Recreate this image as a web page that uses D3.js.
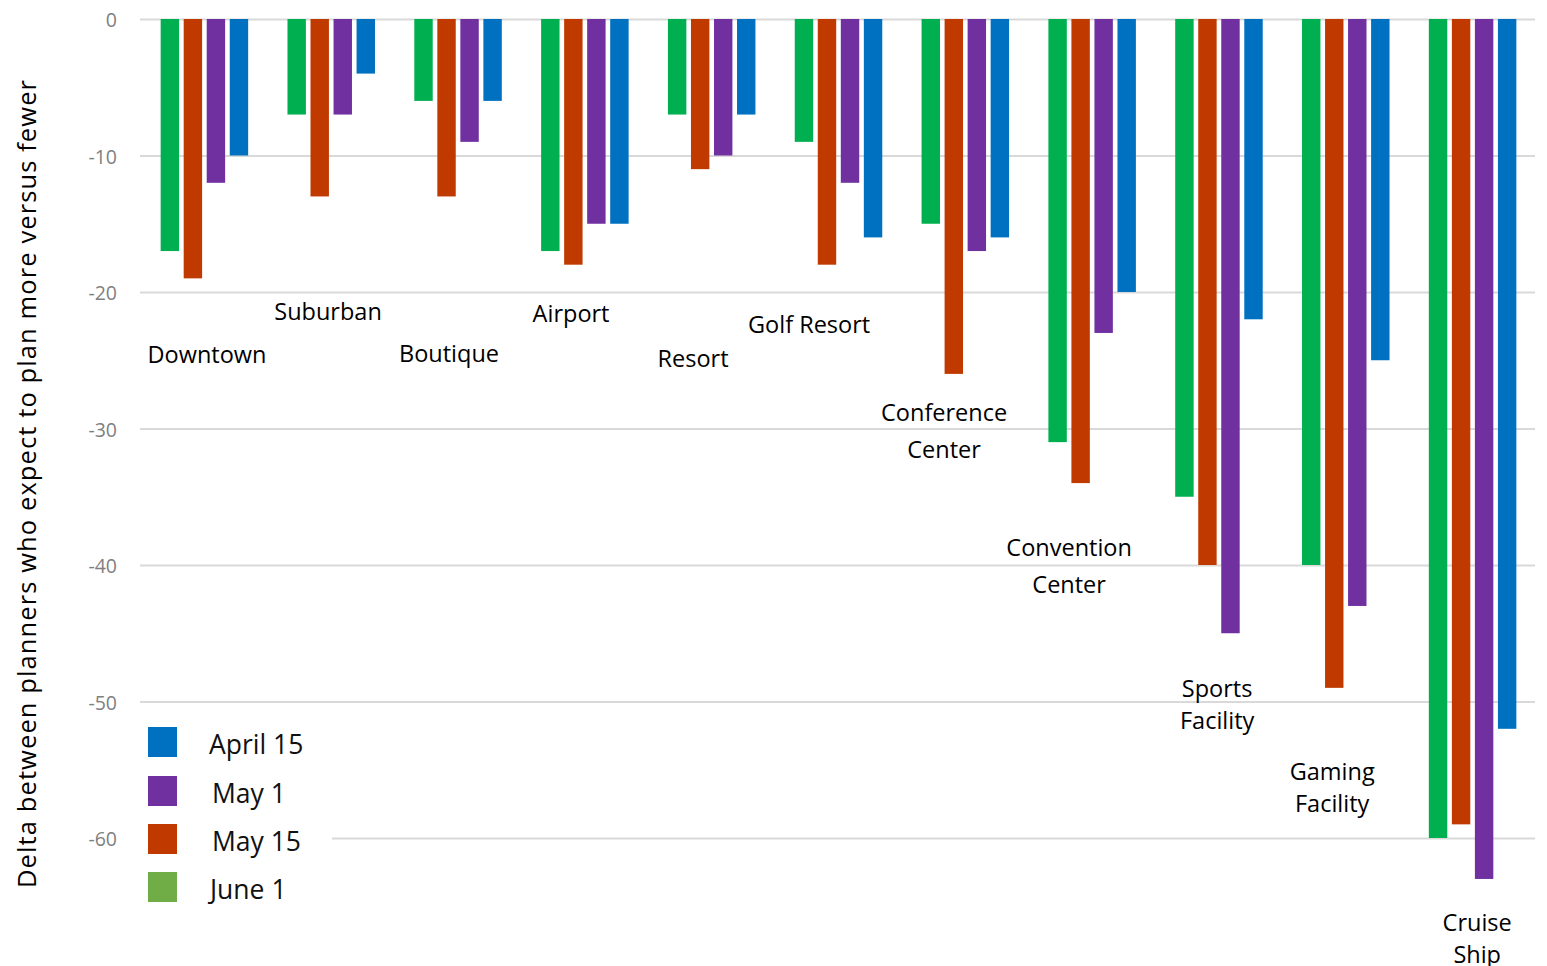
<!DOCTYPE html>
<html>
<head>
<meta charset="utf-8">
<script src="https://cdn.jsdelivr.net/npm/d3@7"></script>
<style>
  html, body { margin: 0; padding: 0; background: #fff; }
  svg { display: block; }
</style>
</head>
<body>
<svg id="chart" width="1547" height="966"></svg>
<script>
// Venue types
const categories = ["Downtown", "Suburban", "Boutique", "Airport", "Resort", "Golf Resort",
  "Conference Center", "Convention Center", "Sports Facility", "Gaming Facility", "Cruise Ship"];

// Survey waves, in the order the bars are drawn inside each group
const series = ["June 1", "May 15", "May 1", "April 15"];

// Net delta per wave, one value per venue type
const june1   = [-17, -7, -6, -17, -7, -9, -15, -31, -35, -40, -60];
const may15   = [-19, -13, -13, -18, -11, -18, -26, -34, -40, -49, -59];
const may1    = [-12, -7, -9, -15, -10, -12, -17, -23, -45, -43, -63];
const april15 = [-10, -4, -6, -15, -7, -16, -16, -20, -22, -25, -52];

const yTicks = [0, -10, -20, -30, -40, -50, -60];
const legendOrder = ["April 15", "May 1", "May 15", "June 1"];

// Category label text, split into lines
const labelLines = [["Downtown"], ["Suburban"], ["Boutique"], ["Airport"], ["Resort"], ["Golf Resort"],
  ["Conference", "Center"], ["Convention", "Center"], ["Sports", "Facility"], ["Gaming", "Facility"], ["Cruise", "Ship"]];
// Where each label line sits, in axis units, and its horizontal nudge from the group centre
const labelAt = [[-24.62], [-21.47], [-24.54], [-21.61], [-24.91], [-22.42],
  [-28.86, -31.58], [-38.75, -41.47], [-49.08, -51.43], [-55.16, -57.51], [-66.23, -68.57]];
const labelDx = [2.6, -3.2, -9, -13.8, -18.6, -29.4, -21.2, -23, -1.8, -13.6, 4.6];

const values = { "June 1": june1, "May 15": may15, "May 1": may1, "April 15": april15 };
const barColor = { "June 1": "#00B050", "May 15": "#C03A00", "May 1": "#7030A0", "April 15": "#0070C0" };
const legendColor = { "June 1": "#70AD47", "May 15": "#C03A00", "May 1": "#7030A0", "April 15": "#0070C0" };

const svg = d3.select("#chart");
const font = "'Open Sans', 'Noto Sans', sans-serif";

const x0 = d3.scaleBand().domain(categories).range([141, 1536]).paddingInner(0.31).paddingOuter(0.155);
const x1 = d3.scaleBand().domain(series).range([0, x0.bandwidth()]).paddingInner(0.2).paddingOuter(0);
const y = d3.scaleLinear().domain([0, -60]).range([19, 838]);

// Gridlines and value labels
const yAxis = d3.axisLeft(y).tickValues(yTicks).tickSize(-1395).tickFormat(d => String(d));
const gAxis = svg.append("g").attr("transform", "translate(140,0)").call(yAxis);
gAxis.select(".domain").remove();
gAxis.selectAll(".tick line").attr("stroke", "#d9d9d9").attr("stroke-width", 2);
gAxis.selectAll(".tick text")
  .attr("x", -23).attr("dy", "0.4em")
  .attr("fill", "#7f7f7f").style("font-family", font).style("font-size", "19.5px");

// Bars
const groups = svg.append("g").selectAll("g").data(categories).join("g")
  .attr("transform", d => `translate(${x0(d)},0)`);
groups.selectAll("rect")
  .data((c, i) => series.map(s => ({ s, v: values[s][i] })))
  .join("rect")
  .attr("x", d => x1(d.s))
  .attr("width", x1.bandwidth())
  .attr("y", y(0))
  .attr("height", d => y(d.v) - y(0))
  .attr("fill", d => barColor[d.s]);

// Category labels
const labels = svg.append("g").style("font-family", font).style("font-size", "23.5px").attr("fill", "#000");
categories.forEach((c, i) => {
  const cx = x0(c) + x0.bandwidth() / 2 + labelDx[i];
  labelLines[i].forEach((line, j) => {
    labels.append("text")
      .attr("x", cx).attr("y", y(labelAt[i][j])).attr("dy", "0.35em")
      .attr("text-anchor", "middle").text(line);
  });
});

// Legend on a white panel
const legend = svg.append("g");
legend.append("rect").attr("x", 140).attr("y", 712).attr("width", 192).attr("height", 200).attr("fill", "#fff");
legendOrder.forEach((s, i) => {
  const ly = [742, 791, 839, 887][i];
  legend.append("rect").attr("x", 148).attr("y", ly - 15).attr("width", 29).attr("height", 30)
    .attr("fill", legendColor[s]);
  legend.append("text").attr("x", [209, 212, 212, 210][i]).attr("y", ly + 3).attr("dy", "0.35em")
    .style("font-family", font).style("font-size", "26.5px").attr("fill", "#111").text(s);
});

// Axis title
svg.append("text")
  .attr("transform", "translate(27,484) rotate(-90)")
  .attr("text-anchor", "middle").attr("dy", "0.35em")
  .attr("textLength", 808).attr("lengthAdjust", "spacing")
  .style("font-family", font).style("font-size", "25.5px").attr("fill", "#000")
  .text("Delta between planners who expect to plan more versus fewer");
</script>
</body>
</html>
